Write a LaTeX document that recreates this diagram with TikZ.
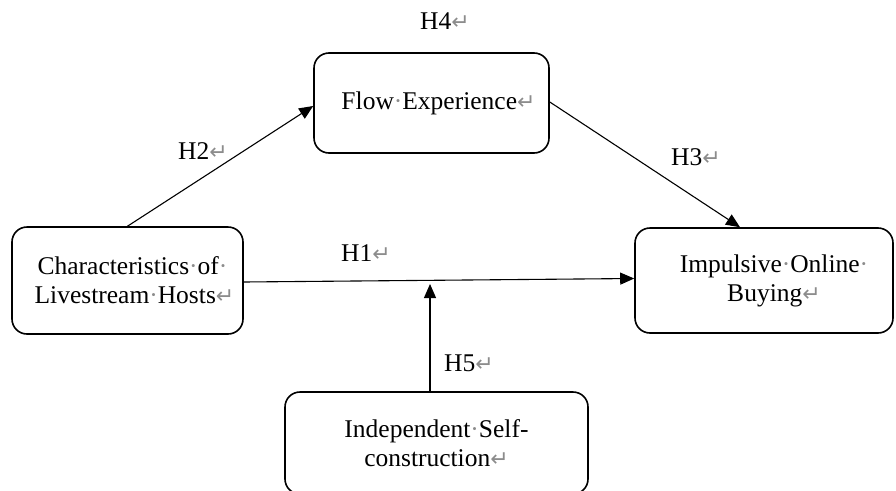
\documentclass[tikz,border=0pt]{standalone}
\usepackage{fontspec}
\setmainfont{Liberation Serif}
\newfontfamily\dejavufam{DejaVu Sans}
\usetikzlibrary{arrows.meta,calc}
\newcommand\parmark{{\color{black!45}\dejavufam\fontsize{22}{22}\selectfont ↵}}
\newcommand\spdot{{\color{black!45}·}}
\tikzset{
  boxnode/.style={draw, line width=1.6pt, rounded corners=15pt, align=center,
    inner sep=0pt, font=\fontsize{25.5}{29}\selectfont},
  lbl/.style={inner sep=0pt, font=\fontsize{25.5}{29}\selectfont},
  conn/.style={line width=1.1pt, -{Triangle[length=14pt,width=12pt]}},
}
\begin{document}
\begin{tikzpicture}[x=1pt,y=-1pt]
\useasboundingbox (0,0) rectangle (896,490);
\node[boxnode, minimum width=231pt, minimum height=107pt] (ch) at (127.5,280.5)
  {\hspace*{10pt}Characteristics\spdot of\spdot\\\hspace*{14pt}Livestream\spdot Hosts\parmark};
\node[boxnode, minimum width=235pt, minimum height=100pt] (fe) at (431.5,103)
  {\hspace*{14pt}Flow\spdot Experience\parmark};
\node[boxnode, minimum width=258pt, minimum height=105pt] (ib) at (764,280.5)
  {\hspace*{20pt}Impulsive\spdot Online\spdot\\\hspace*{20pt}Buying\parmark};
\node[boxnode, minimum width=303pt, minimum height=102pt] (is) at (436.5,443)
  {Independent\spdot Self-\\construction\parmark};
\coordinate (m) at (430,281);
\draw[conn] ([yshift=-1.5pt]ch.east) -- ([yshift=2pt]ib.west);
\draw[conn] (ch.north) -- ([yshift=-3pt]fe.west);
\draw[conn] ([yshift=1pt]fe.east) -- ([xshift=-24pt]ib.north);
\draw[conn] (is.north -| m) -- ([yshift=-3pt]m);
\node[lbl] (h4) at (445,21) {H4\parmark};
\node[lbl] (h2) at (203,151) {H2\parmark};
\node[lbl] (h3) at (696,157) {H3\parmark};
\node[lbl] (h1) at (366,253) {H1\parmark};
\node[lbl] (h5) at (469,363) {H5\parmark};
\end{tikzpicture}
\end{document}
